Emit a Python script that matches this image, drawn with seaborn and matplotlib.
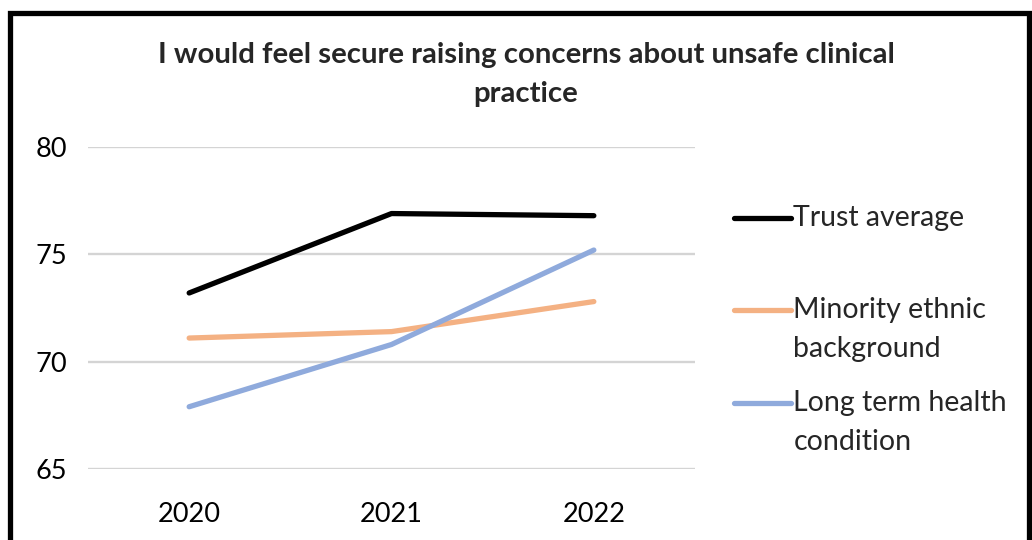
import matplotlib
matplotlib.use("Agg")
import matplotlib.pyplot as plt
from matplotlib.patches import Rectangle
from matplotlib.lines import Line2D
from matplotlib.legend_handler import HandlerLine2D
import numpy as np
import pandas as pd
import seaborn as sns

# Survey scores (%) by year
years = ["2020", "2021", "2022"]
trust_average = [73.2, 76.9, 76.8]
minority_ethnic = [71.1, 71.4, 72.8]
long_term_health = [67.9, 70.8, 75.2]

series_names = ["Trust average", "Minority ethnic\nbackground", "Long term health\ncondition"]
series_colors = ["#000000", "#F4B183", "#8FAADC"]
y_ticks = [65, 70, 75, 80]

title = "I would feel secure raising concerns about unsafe clinical\npractice"

df = pd.DataFrame({
    "Year": years * 3,
    "Score": trust_average + minority_ethnic + long_term_health,
    "Group": [n for n in series_names for _ in years],
})

LEG_FS = 20.5
LEG_LS = 1.63


class FirstLineHandler(HandlerLine2D):
    """Legend key drawn level with the first line of a wrapped label."""

    def __init__(self, n_lines, **kw):
        super().__init__(**kw)
        self.n_lines = n_lines

    def create_artists(self, legend, orig_handle, xdescent, ydescent,
                       width, height, fontsize, trans):
        artists = super().create_artists(legend, orig_handle, xdescent, ydescent,
                                         width, height, fontsize, trans)
        shift = (self.n_lines - 1) * LEG_LS * fontsize * 0.864 / 2
        for a in artists:
            if isinstance(a, Line2D):
                a.set_ydata(np.asarray(a.get_ydata()) + shift)
        return artists


sns.set_theme(style="white")
plt.rcParams["font.family"] = ["Lato", "DejaVu Sans"]

fig = plt.figure(figsize=(10.32, 5.4), dpi=100)
ax = fig.add_axes([88 / 1032, 71 / 540, 607 / 1032, 322 / 540])

sns.lineplot(
    data=df, x="Year", y="Score", hue="Group",
    palette=dict(zip(series_names, series_colors)),
    hue_order=series_names, linewidth=3.8, ax=ax,
    solid_capstyle="round", solid_joinstyle="round", sort=False,
)

ax.set_xlim(-0.5, 2.5)
ax.set_ylim(65, 80)
ax.set_yticks(y_ticks)
ax.yaxis.grid(True, color="#D4D4D4", linewidth=1.7)
ax.set_axisbelow(True)
for s in ax.spines.values():
    s.set_visible(False)
ax.tick_params(axis="both", length=0, labelsize=19.5, colors="#000000")
ax.tick_params(axis="y", pad=15)
ax.tick_params(axis="x", pad=24)
ax.set_xlabel("")
ax.set_ylabel("")

# The first legend entry keeps a blank second line so all keys sit on an even rhythm
handles, labels = ax.get_legend_handles_labels()
labels = [lab if "\n" in lab else lab + "\n" for lab in labels]
leg = ax.legend(
    handles, labels,
    loc="upper left", bbox_to_anchor=(708 / 1032, 1 - 179 / 540),
    bbox_transform=fig.transFigure, frameon=False, fontsize=LEG_FS,
    handlelength=2.0, handletextpad=0.1, labelspacing=0.96,
    handler_map={h: FirstLineHandler(lab.count("\n") + 1) for h, lab in zip(handles, labels)},
)
for t in leg.get_texts():
    t.set_linespacing(LEG_LS)
for h in leg.get_lines():
    h.set_linewidth(3.8)
    h.set_solid_capstyle("round")

fig.text(526 / 1032, 1 - 74.5 / 540, title, ha="center", va="center",
         fontsize=21.2, fontweight="bold", linespacing=1.65)

# Outer chart frame
fig.patches.append(Rectangle((10 / 1032, -0.1), 1019 / 1032, 1.1 - 12.5 / 540,
                             transform=fig.transFigure, fill=False,
                             edgecolor="black", linewidth=3.8))

fig.savefig("out.png", dpi=100, facecolor="white")
